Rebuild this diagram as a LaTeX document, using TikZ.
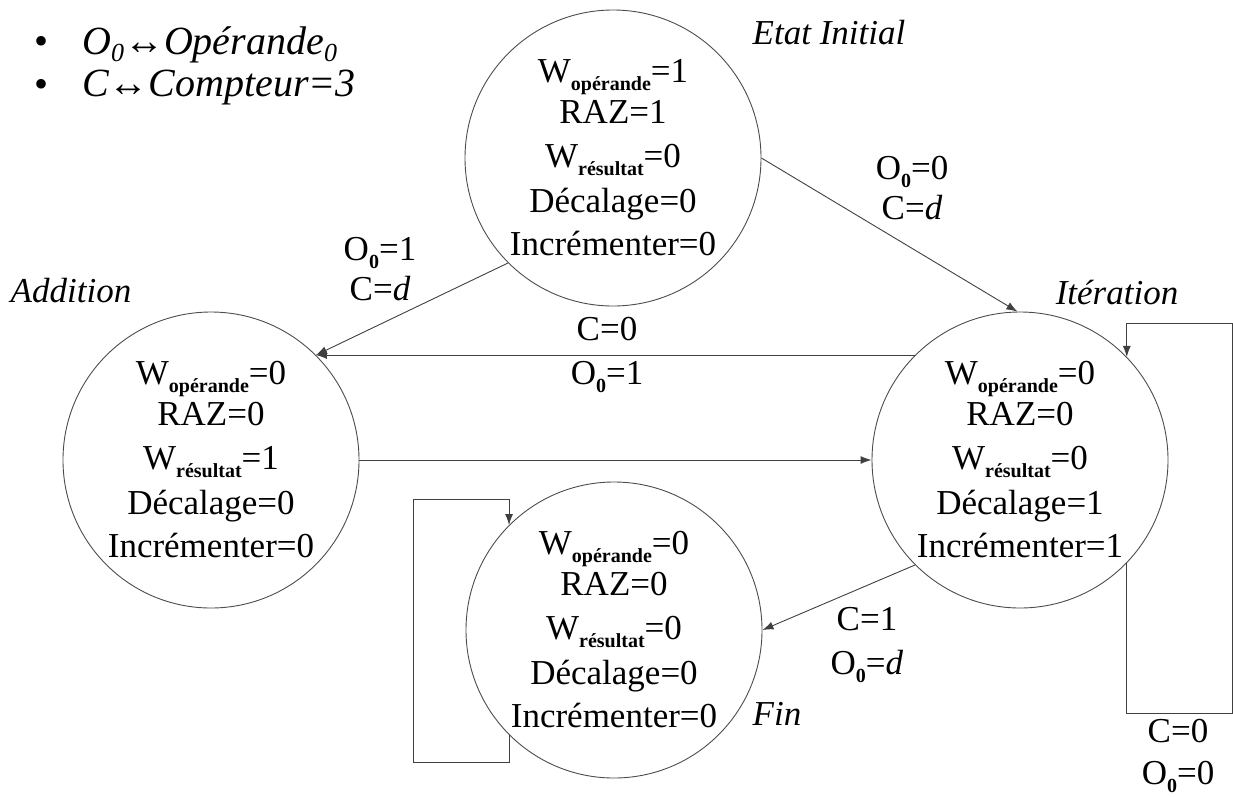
\documentclass[tikz,border=0pt]{standalone}
\usepackage{fontspec}
\setmainfont{Liberation Serif}
\usetikzlibrary{arrows.meta,positioning}

\newcommand{\lowsub}[1]{\raisebox{-0.22em}{\fontsize{20}{20}\selectfont\bfseries #1}}
\newcommand{\itsub}[1]{\raisebox{-0.18em}{\fontsize{26}{26}\selectfont #1}}

\tikzset{
    fsm/.style={circle,draw=black!70,line width=0.9pt,minimum size=296pt,inner sep=0pt,
        align=center,font=\fontsize{35}{42}\selectfont},
    statename/.style={font=\fontsize{35}{40}\selectfont\itshape},
    cond/.style={align=center,font=\fontsize{35}{40}\selectfont},
    legend/.style={anchor=west,inner sep=0pt,font=\fontsize{40}{40}\selectfont\itshape},
    trans/.style={draw=black!75,line width=0.9pt,-{Latex[length=11pt,width=8pt]}},
}

\begin{document}
\begin{tikzpicture}[x=1pt,y=-1pt]
    \useasboundingbox (0,0) rectangle (1233,796);

    % legend
    \node[inner sep=0pt,font=\fontsize{40}{40}\selectfont] (b1) at (42,45) {•};
    \node[legend] (t1) at (82,45) {O\itsub{0}↔Opérande\itsub{0}};
    \node[inner sep=0pt,font=\fontsize{40}{40}\selectfont] (b2) at (42,88) {•};
    \node[legend] (t2) at (82,88) {C↔Compteur=3};

    % states
    \node[fsm] (init) at (613,158) {W\lowsub{opérande}=1\\[-1pt] RAZ=1\\[2pt] W\lowsub{résultat}=0\\[3pt] Décalage=0\\[1pt] Incrémenter=0};
    \node[fsm] (add) at (211,460) {W\lowsub{opérande}=0\\[-1pt] RAZ=0\\[2pt] W\lowsub{résultat}=1\\[3pt] Décalage=0\\[1pt] Incrémenter=0};
    \node[fsm] (iter) at (1020,460) {W\lowsub{opérande}=0\\[-1pt] RAZ=0\\[2pt] W\lowsub{résultat}=0\\[3pt] Décalage=1\\[1pt] Incrémenter=1};
    \node[fsm] (fin) at (614,630) {W\lowsub{opérande}=0\\[-1pt] RAZ=0\\[2pt] W\lowsub{résultat}=0\\[3pt] Décalage=0\\[1pt] Incrémenter=0};

    \node[statename] (linit) at (829,33) {Etat Initial};
    \node[statename] (ladd) at (71,291) {Addition};
    \node[statename] (liter) at (1117,293) {Itération};
    \node[statename] (lfin) at (777,714) {Fin};

    % conditions
    \node[cond] (c1) at (380,269) {O\lowsub{0}=1\\C=\textit{d}};
    \node[cond] (c2) at (912,188) {O\lowsub{0}=0\\C=\textit{d}};
    \node[cond] (c3) at (607,355) {C=0\\[4pt]O\lowsub{0}=1};
    \node[cond] (c4) at (867,645) {C=1\\[4pt]O\lowsub{0}=\textit{d}};
    \node[cond] (c5) at (1178,756) {C=0\\[2pt]O\lowsub{0}=0};

    % transitions
    \coordinate (iterloop) at (1232,323);
    \coordinate (finloop) at (413,499);
    \draw[trans] (init.-135) -- (add.45);
    \draw[trans] (init.0) -- (iter.91);
    \draw[trans] (iter.135) -- (add.45);
    \draw[trans] (add.east) -- (iter.west);
    \draw[trans] (iter.-135) -- (fin.east);
    \draw[trans] (iter.-44) -- (iter.-44 |- 0,713) -| (iterloop) -| (iter.44);
    \draw[trans] (fin.-135) -- (fin.-135 |- 0,762) -| (finloop) -| (fin.135);
\end{tikzpicture}
\end{document}
